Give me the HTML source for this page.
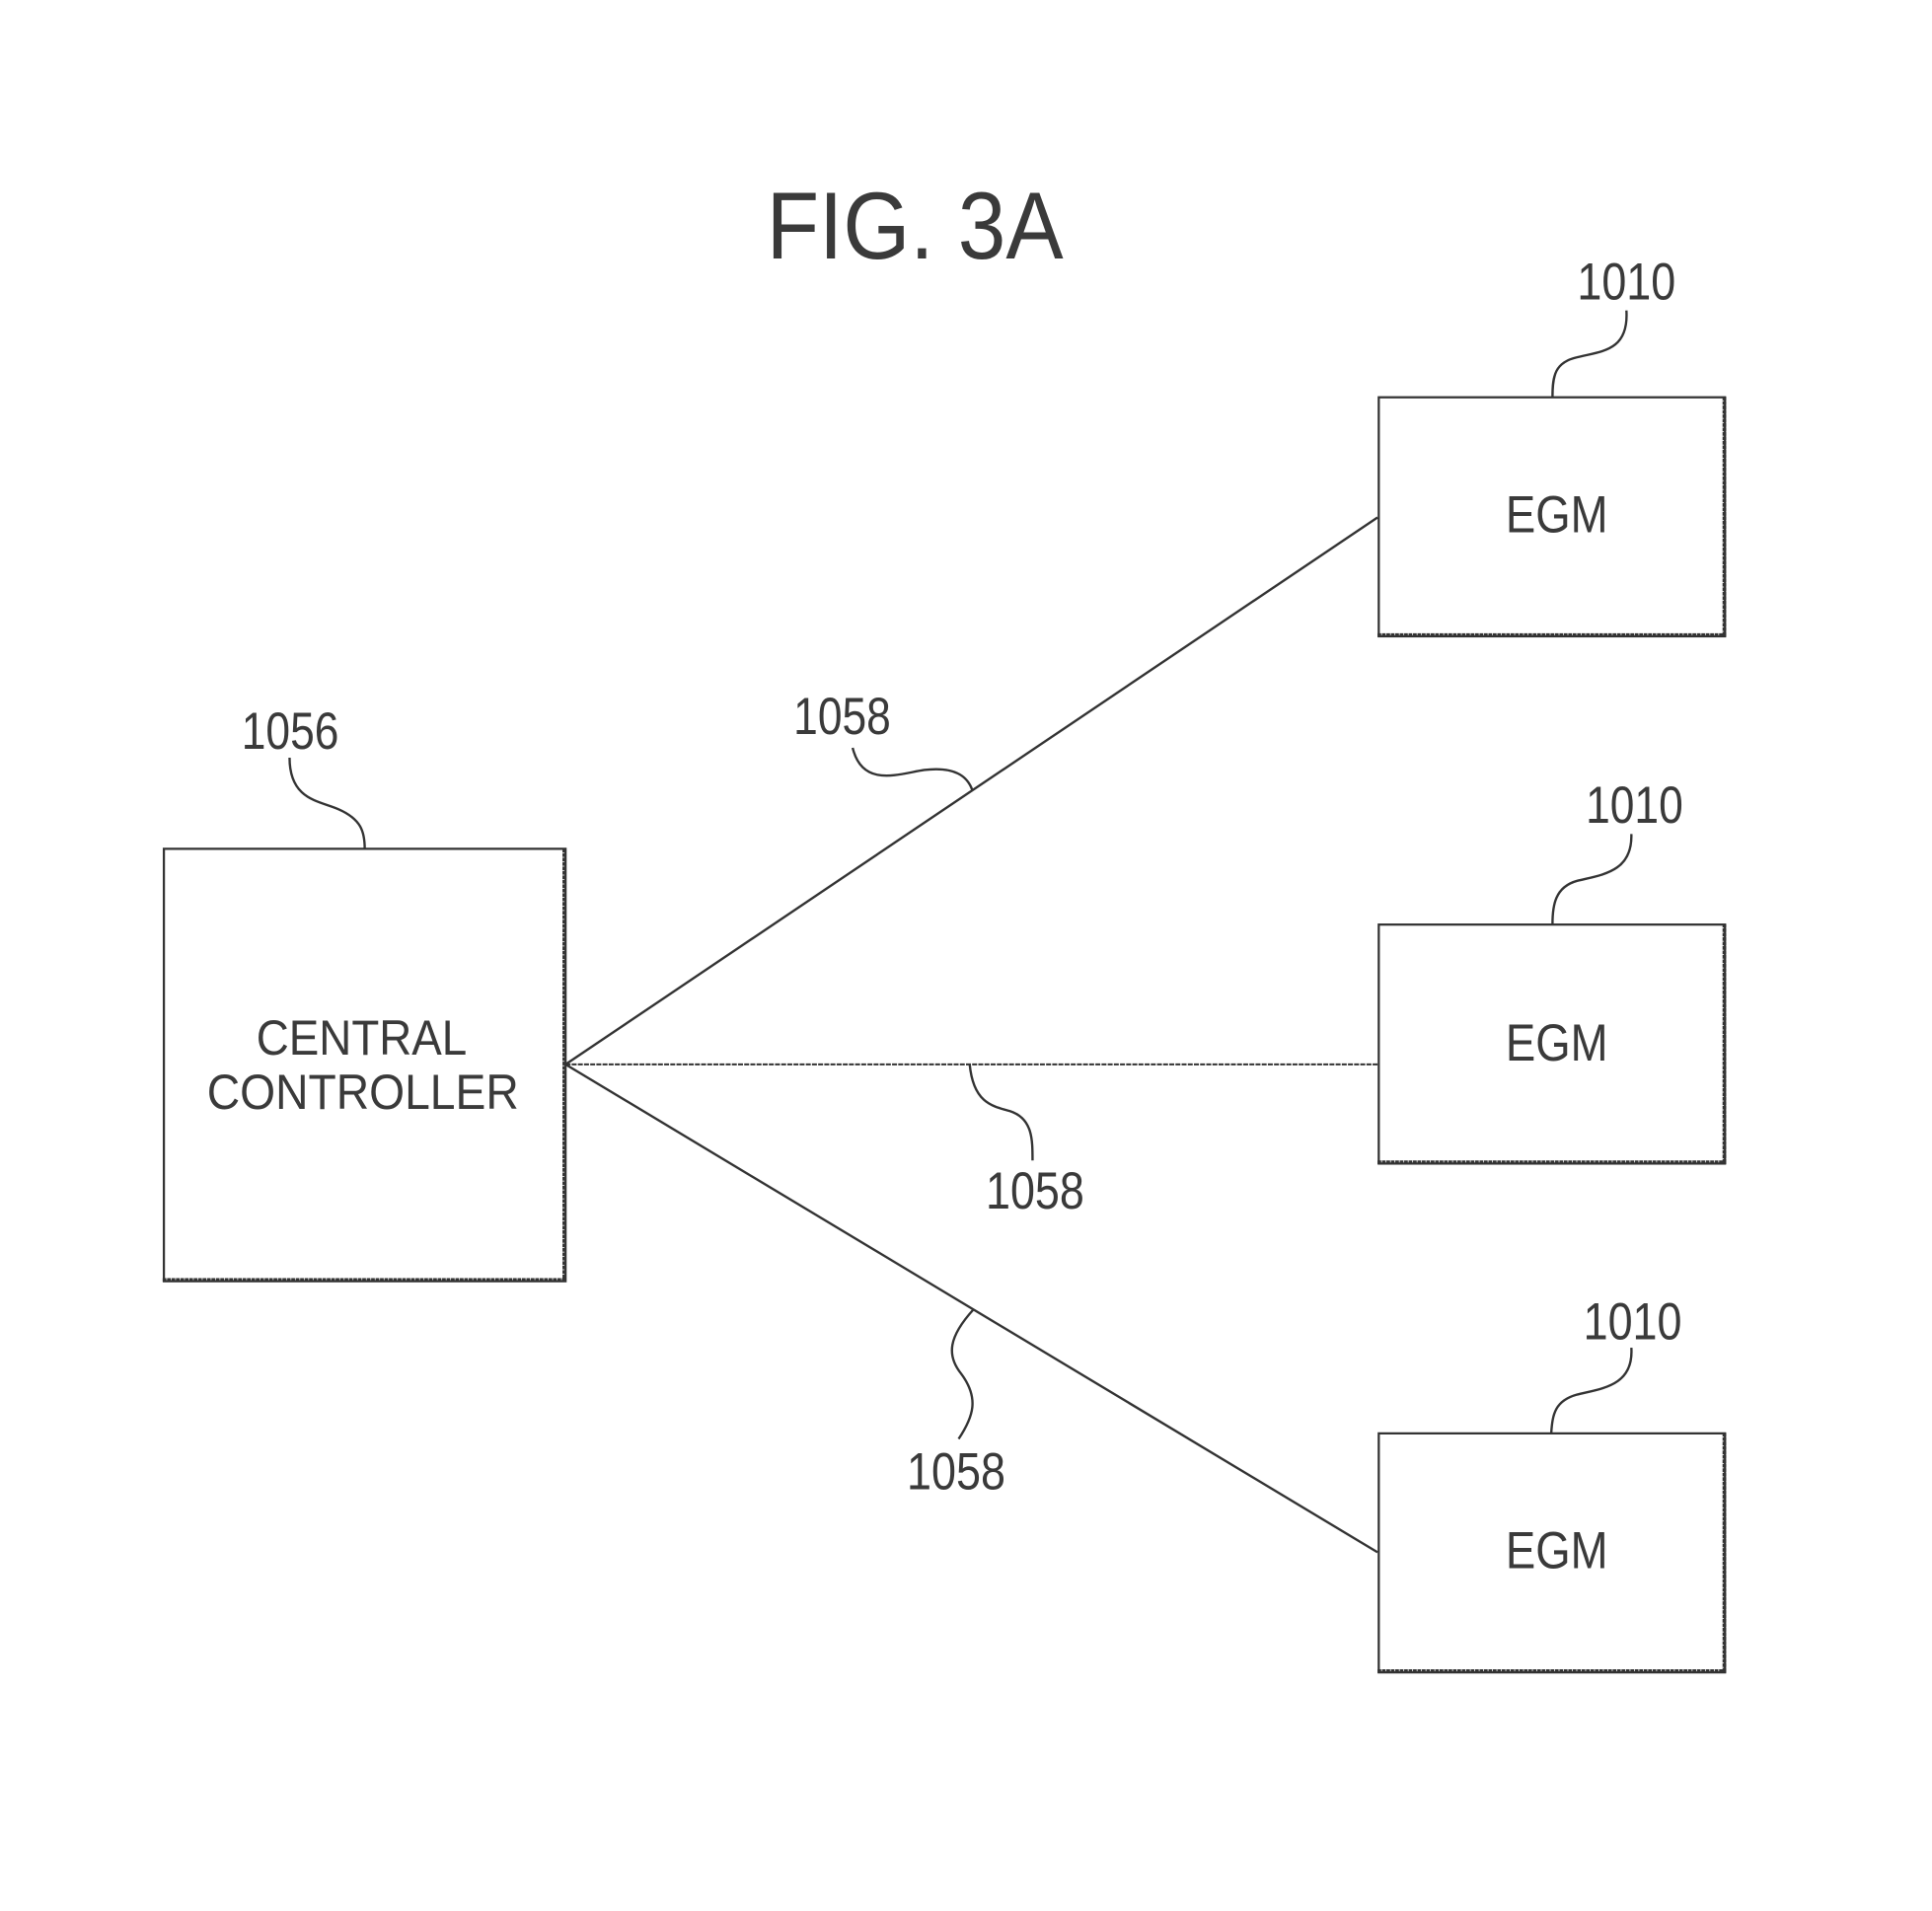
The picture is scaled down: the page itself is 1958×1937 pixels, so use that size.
<!DOCTYPE html>
<html>
<head>
<meta charset="utf-8">
<style>
html,body{margin:0;padding:0;background:#fff;}
svg{display:block;}
text{font-family:"Liberation Sans",sans-serif;fill:#3a3a3a;}
.b{fill:none;stroke:#333;stroke-width:1.8;}
.t{fill:none;stroke:#333;stroke-width:3;stroke-dasharray:3 .6;}
.l{fill:none;stroke:#333;stroke-width:1.9;}
.d{fill:none;stroke:#333;stroke-width:1.6;stroke-dasharray:4 1;}
</style>
</head>
<body>
<svg xmlns="http://www.w3.org/2000/svg" width="1958" height="1937" viewBox="0 0 1568 1551.2">
<rect width="1568" height="1552" fill="#fff"/>
<text x="622" y="210" font-size="77" textLength="241" lengthAdjust="spacingAndGlyphs">FIG. 3A</text>

<!-- boxes -->
<rect class="b" x="133" y="689" width="326" height="351"/>
<path class="t" d="M458 689V1040M132 1039H459"/>
<rect class="b" x="1119" y="322.500" width="281" height="194"/>
<path class="t" d="M1399.500 322V517M1118 515.500H1401"/>
<rect class="b" x="1119" y="750.500" width="281" height="194"/>
<path class="t" d="M1399.500 750V945M1118 943.500H1401"/>
<rect class="b" x="1119" y="1163.500" width="281" height="194"/>
<path class="t" d="M1399.500 1163V1358M1118 1356.500H1401"/>

<!-- box labels -->
<text x="208" y="856" font-size="40" textLength="171" lengthAdjust="spacingAndGlyphs">CENTRAL</text>
<text x="168" y="900" font-size="40" textLength="253" lengthAdjust="spacingAndGlyphs">CONTROLLER</text>
<text x="1222" y="432" font-size="42" textLength="83" lengthAdjust="spacingAndGlyphs">EGM</text>
<text x="1222" y="861" font-size="42" textLength="83" lengthAdjust="spacingAndGlyphs">EGM</text>
<text x="1222" y="1273" font-size="42" textLength="83" lengthAdjust="spacingAndGlyphs">EGM</text>

<!-- connectors -->
<path class="l" d="M459 864L1118 420"/>
<path class="d" d="M459 864H1118"/>
<path class="l" d="M459 864L1118 1260"/>

<!-- leaders -->
<path class="l" d="M1320 252C1322 285 1300 285 1280 290C1262 294 1260 305 1260 322"/>
<path class="l" d="M1324 677C1325 708 1300 710 1280 715C1262 720 1260 735 1260 750"/>
<path class="l" d="M1324 1094C1326 1125 1300 1127 1280 1132C1262 1137 1260 1148 1259 1163"/>
<path class="l" d="M235 615C235 650 260 650 275 657C293 665 296 675 296 689"/>
<path class="l" d="M692 607C700 640 730 628 750 625C775 622 785 630 789 641"/>
<path class="l" d="M787 864C790 895 805 898 820 902C838 908 838 925 838 942"/>
<path class="l" d="M790 1063C770 1085 768 1100 780 1115C795 1135 790 1150 778 1168"/>

<!-- reference numerals -->
<text x="1280" y="243" font-size="42" textLength="80" lengthAdjust="spacingAndGlyphs">1010</text>
<text x="1287" y="668" font-size="42" textLength="79" lengthAdjust="spacingAndGlyphs">1010</text>
<text x="1285" y="1087" font-size="42" textLength="80" lengthAdjust="spacingAndGlyphs">1010</text>
<text x="196" y="608" font-size="42" textLength="79" lengthAdjust="spacingAndGlyphs">1056</text>
<text x="644" y="596" font-size="42" textLength="79" lengthAdjust="spacingAndGlyphs">1058</text>
<text x="800" y="981" font-size="42" textLength="80" lengthAdjust="spacingAndGlyphs">1058</text>
<text x="736" y="1209" font-size="42" textLength="80" lengthAdjust="spacingAndGlyphs">1058</text>
</svg>
</body>
</html>
